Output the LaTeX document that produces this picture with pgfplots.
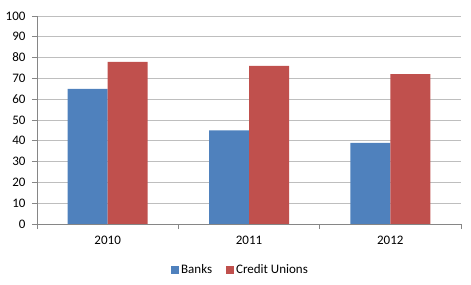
\documentclass[border=0pt]{standalone}
\usepackage{pgfplots}
\pgfplotsset{compat=1.18}
\usepackage{fontspec}
\setmainfont{Carlito}
\definecolor{xlblue}{HTML}{4F81BD}
\definecolor{xlred}{HTML}{C0504D}
\definecolor{gridgray}{HTML}{BEBEBE}
\definecolor{axgray}{HTML}{868686}
\begin{document}
\fontsize{13bp}{15bp}\selectfont
\begin{tikzpicture}
\path[use as bounding box] (-37bp,-61bp) rectangle (434bp,224bp);
\begin{axis}[
  at={(0,0)}, anchor=south west,
  scale only axis, width=424bp, height=208bp,
  ybar=0pt, bar width=40bp,
  xmin=-0.5, xmax=2.5, ymin=0, ymax=100,
  xtick={0,1,2}, xticklabels={2010,2011,2012},
  minor xtick={-0.5,0.5,1.5,2.5},
  ytick={0,10,...,100},
  axis x line*=bottom, axis y line*=left,
  axis line style={axgray, line width=0.8pt},
  ymajorgrids, grid style={gridgray, line width=0.8pt},
  tick align=outside,
  major x tick style={draw=none},
  minor x tick style={axgray, line width=0.8pt},
  minor tick length=5bp,
  major y tick style={axgray, line width=0.8pt},
  major tick length=5bp,
  xticklabel style={yshift=-3bp},
  yticklabel style={xshift=-2bp},
  /pgf/number format/assume math mode=true,
  tick label style={font=\fontsize{13bp}{15bp}\selectfont},
  legend style={at={(0.48,-0.221)}, anchor=center, draw=none, legend columns=-1,
    font=\fontsize{13bp}{15bp}\selectfont, /tikz/every even column/.append style={column sep=12bp}},
  legend image code/.code={\fill[#1] (0bp,-4bp) rectangle (8bp,4bp);},
]
\addplot[fill=xlblue, draw=none] coordinates {(0,65) (1,45) (2,39)};
\addplot[fill=xlred, draw=none] coordinates {(0,78) (1,76) (2,72)};
\legend{Banks, Credit Unions}
\end{axis}
\end{tikzpicture}
\end{document}
